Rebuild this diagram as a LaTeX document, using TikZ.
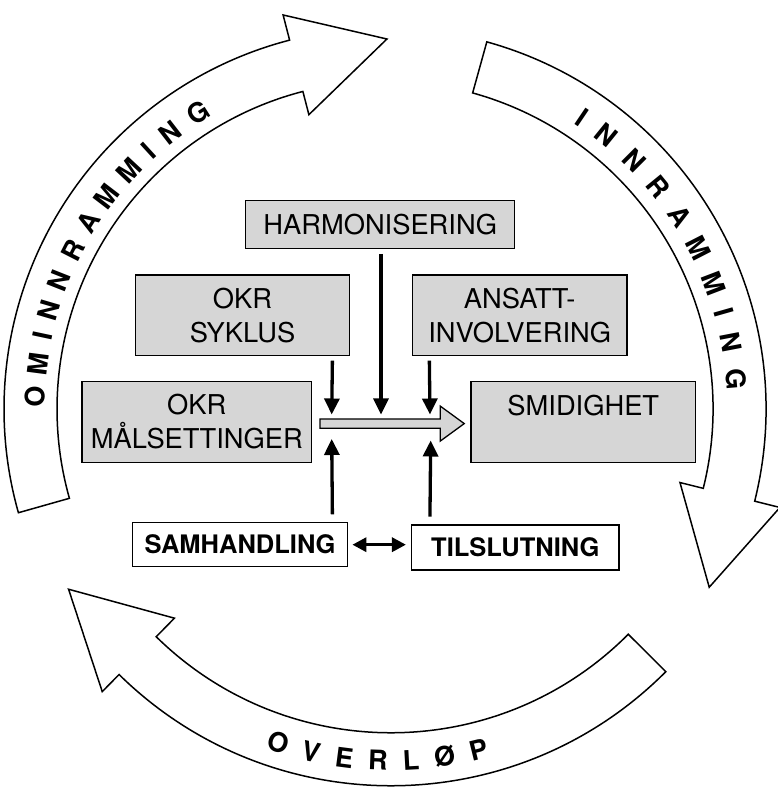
\documentclass[tikz,border=0pt]{standalone}
\usepackage{fontspec}
\setmainfont{TeX Gyre Heros}
\usetikzlibrary{calc,arrows.meta}
\definecolor{boxgray}{RGB}{214,214,214}
\begin{document}
\begin{tikzpicture}[x=1pt,y=1pt,
  graybox/.style={draw=black, line width=1.4pt, fill=boxgray, minimum height=80.6pt, align=center, font=\fontsize{27.3}{34}\selectfont, inner sep=0pt},
  whitebox/.style={draw=black, line width=1.4pt, fill=white, font=\fontsize{25.5}{28}\selectfont\bfseries, inner sep=0pt},
  conn/.style={line width=3.3pt, -{Triangle[length=16pt,width=15pt]}},
  dconn/.style={line width=3.3pt, {Triangle[length=14pt,width=14pt]}-{Triangle[length=14pt,width=14pt]}},
  band/.style={draw=black, line width=1.5pt, fill=white, line join=miter},
  hollow/.style={draw=black, line width=1.3pt, fill=boxgray, line join=miter},
  arcletter/.style={font=\fontsize{27}{27}\selectfont\bfseries, inner sep=0pt, text height=19.4pt, text depth=0pt}
]
\useasboundingbox (0,0) rectangle (778,787);

% ---- circular arrows ----
\begin{scope}[shift={(385,378)}]
  % OMINNRAMMING (left, going up)
  \draw[band] (195.8:381pt) arc[start angle=195.8, end angle=104.5, radius=381pt]
    -- (104.5:407pt) -- (89.7:370pt) -- (104.5:304pt) -- (104.5:328pt)
    arc[start angle=104.5, end angle=195.8, radius=328pt] -- cycle;
  % INNRAMMING (right, going down)
  \draw[band] (74.5:381pt) arc[start angle=74.5, end angle=-14, radius=381pt]
    -- (-14:407pt) -- (-28.8:370pt) -- (-14:304pt) -- (-14:328pt)
    arc[start angle=-14, end angle=74.5, radius=328pt] -- cycle;
  \foreach \a/\l [count=\i] in {177.9/O,172.6/M,168.0/I,163.7/N,158.5/N,153.0/R,147.8/A,142.6/M,137.0/M,132.4/I,127.8/N,122.21/G}
    \node[arcletter, rotate=\a-90] (om\i) at (\a:350pt) {\l};
  \foreach \a/\l [count=\i] in {56.0/I,51.0/N,45.0/N,39.2/R,33.2/A,27.2/M,20.9/M,15.9/I,10.9/N,4.89/G}
    \node[arcletter, rotate=\a-90] (in\i) at (\a:352pt) {\l};
\end{scope}
\begin{scope}[shift={(391,389.2)}]
  % OVERLØP (bottom, going left)
  \draw[band] (-44.9:388pt) arc[start angle=-44.9, end angle=-134.5, radius=388pt]
    -- (-134.5:412pt) -- (-149.3:375pt) -- (-134.5:309pt) -- (-134.5:335pt)
    arc[start angle=-134.5, end angle=-44.9, radius=335pt] -- cycle;
  \foreach \a/\l [count=\i] in {-108.1/O,-102.65/V,-97.41/E,-92.07/R,-86.84/L,-81.50/Ø,-76.05/P}
    \node[arcletter, rotate=\a+90] (ov\i) at (\a:363pt) {\l};
\end{scope}

% ---- boxes ----
\node[graybox, minimum width=269pt, minimum height=47.6pt] (harm) at (380.2,562.5) {HARMONISERING};
\node[graybox, minimum width=213.6pt] (syk) at (242.5,471.7) {OKR\\SYKLUS};
\node[graybox, minimum width=214.7pt] (ans) at (519.7,471.7) {ANSATT-\\INVOLVERING};
\node[graybox, minimum width=229.7pt] (mal) at (196.8,365) {OKR\\MÅLSETTINGER};
\node[graybox, minimum width=224.7pt] (smid) at (583.3,365) {SMIDIGHET\\\mbox{}};
\node[whitebox, minimum width=214.6pt, minimum height=44pt] (sam) at (240,242.3) {SAMHANDLING};
\node[whitebox, minimum width=207.3pt, minimum height=45pt] (til) at (515.3,239.5) {TILSLUTNING};

% ---- hollow arrow ----
\coordinate (hs) at ($(mal.east)+(7.6,-1.6)$);
\coordinate (ht) at ($(smid.west)+(-6,-1.6)$);
\draw[hollow] ($(hs)+(0,4.65)$) -- ($(ht)+(-24,4.65)$) -- ($(ht)+(-24,17.5)$) -- (ht)
  -- ($(ht)+(-24,-17.5)$) -- ($(ht)+(-24,-4.65)$) -- ($(hs)+(0,-4.65)$) -- cycle;

% ---- connector end points on the hollow arrow ----
\coordinate (e1) at (331.7,372.5);
\coordinate (e2) at (381,372.5);
\coordinate (e3) at (430,372.5);
\coordinate (e4) at (331.7,348);
\coordinate (e5) at (430.7,346.5);

% ---- connectors ----
\draw[conn] ([xshift=-17.6pt,yshift=-4.3pt]syk.south east) -- (e1);
\draw[conn] ([xshift=0.8pt,yshift=-5pt]harm.south) -- (e2);
\draw[conn] ([xshift=17.7pt,yshift=-4.3pt]ans.south west) -- (e3);
\draw[conn] ([xshift=-15.6pt,yshift=7.7pt]sam.north east) -- (e4);
\draw[conn] ([xshift=19pt,yshift=7.7pt]til.north west) -- (e5);
\draw[dconn, shorten <=4.4pt, shorten >=5pt] (sam.east) -- (sam.east -| til.west);
\end{tikzpicture}
\end{document}
